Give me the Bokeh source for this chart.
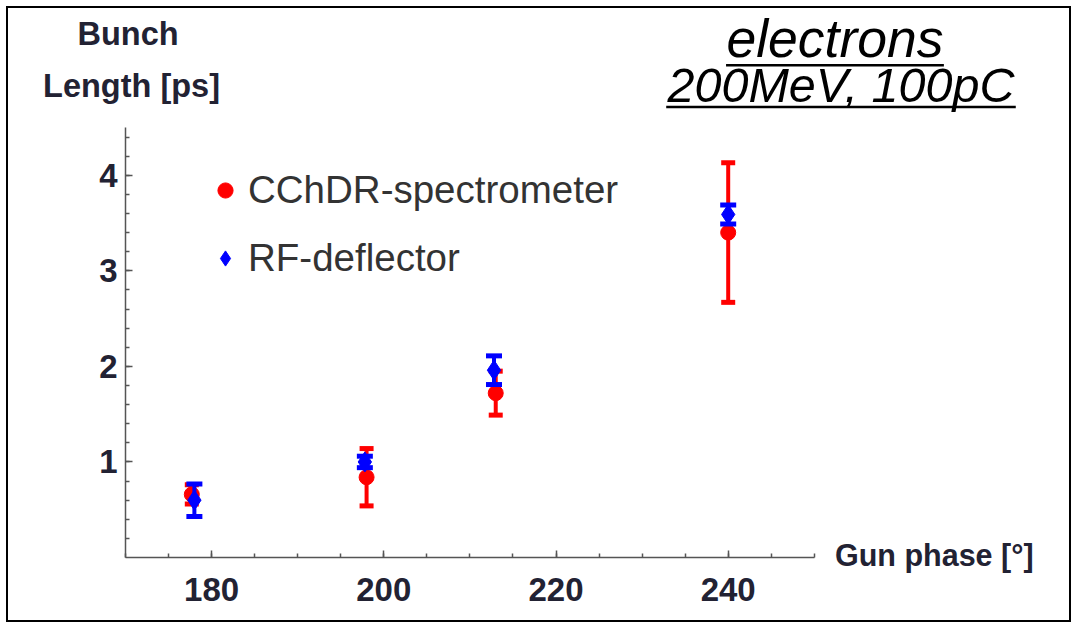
import numpy as np
from bokeh.plotting import figure
from bokeh.models import Range1d, FixedTicker, Legend, LegendItem, Label, Arrow
from bokeh.embed import file_html
from bokeh.resources import INLINE

# ---- data ----
phase_cchdr = [177.7, 198.0, 213.0, 240.0]
len_cchdr = [0.66, 0.84, 1.72, 3.40]
err_cchdr = [0.10, 0.30, 0.23, 0.73]

phase_rf = [178.0, 197.8, 212.8, 240.0]
len_rf = [0.60, 1.00, 1.96, 3.59]
err_rf = [0.17, 0.06, 0.15, 0.10]

x_major = [180, 200, 220, 240]
x_minor = list(range(170, 251, 5))
y_major = [1, 2, 3, 4]
y_minor = [round(0.2 * i, 1) for i in range(1, 23)]
x_axis_bounds = (170, 250)
y_axis_bounds = (0, 4.5)

series_names = ["CChDR-spectrometer", "RF-deflector"]
title_lines = ["electrons", "200MeV, 100pC"]
y_title = ["Bunch", "Length [ps]"]
x_title = "Gun phase [°]"

FONT = "Liberation Sans"
LABEL_COLOR = "#222233"
AXIS_COLOR = "#555555"

# ---- layout (pixels) ----
W, H = 1065, 616
AX_LEFT_PX, AX_BOTTOM_PX = 117, 549      # where the axes cross, in canvas px (from top-left)
PX_PER_X = 8.61                           # px per degree
PX_PER_Y = 95.56                          # px per ps
x0 = x_axis_bounds[0] - AX_LEFT_PX / PX_PER_X
y0 = -(H - AX_BOTTOM_PX) / PX_PER_Y

p = figure(width=W, height=H, output_backend="svg", toolbar_location=None,
           x_range=Range1d(x0, x0 + W / PX_PER_X), y_range=Range1d(y0, y0 + H / PX_PER_Y),
           min_border_left=0, min_border_right=0, min_border_top=0, min_border_bottom=0)
p.styles = {"border": "2px solid black"}
p.margin = (6, 0, 0, 6)
p.xgrid.visible = False
p.ygrid.visible = False
p.outline_line_color = None
p.background_fill_color = "white"
p.border_fill_color = "white"

p.xaxis.fixed_location = y_axis_bounds[0]
p.yaxis.fixed_location = x_axis_bounds[0]
p.xaxis.bounds = x_axis_bounds
p.yaxis.bounds = y_axis_bounds

for ax, ticks, minor, standoff in [(p.xaxis[0], x_major, x_minor, 20), (p.yaxis[0], y_major, y_minor, 8)]:
    ax.ticker = FixedTicker(ticks=ticks, minor_ticks=minor)
    ax.axis_line_color = AXIS_COLOR
    ax.axis_line_width = 1.5
    ax.major_tick_line_color = AXIS_COLOR
    ax.major_tick_line_width = 1.5
    ax.minor_tick_line_color = AXIS_COLOR
    ax.minor_tick_line_width = 1.5
    ax.major_tick_in = 7
    ax.major_tick_out = 0
    ax.minor_tick_in = 4
    ax.minor_tick_out = 0
    ax.major_label_text_font = FONT
    ax.major_label_text_font_style = "bold"
    ax.major_label_text_font_size = "33px"
    ax.major_label_text_color = LABEL_COLOR
    ax.major_label_standoff = standoff

def add_series(xs, ys, errs, color, marker, size, cap):
    lo = [y - e for y, e in zip(ys, errs)]
    hi = [y + e for y, e in zip(ys, errs)]
    p.segment(x0=xs, y0=lo, x1=xs, y1=hi, line_color=color, line_width=4)
    p.scatter(x=xs + xs, y=lo + hi, marker="dash", size=cap, line_color=color, line_width=5)
    return p.scatter(x=xs, y=ys, marker=marker, size=size, fill_color=color, line_color=color)

r_red = add_series(phase_cchdr, len_cchdr, err_cchdr, "red", "circle", 15, 14)
r_blue = add_series(phase_rf, len_rf, err_rf, "blue", "diamond", 20, 16)

legend = Legend(items=[LegendItem(label=series_names[0], renderers=[r_red]),
                       LegendItem(label=series_names[1], renderers=[r_blue])],
                location=(198, 344), orientation="vertical",
                border_line_color=None, background_fill_alpha=0,
                padding=0, margin=0, spacing=24,
                glyph_width=38, glyph_height=40, label_height=40, label_standoff=4,
                label_text_font=FONT, label_text_font_size="38.5px",
                label_text_color="#333333")
p.add_layout(legend)

# y-axis title (two lines, top left)
for txt, xx, yy in zip(y_title, [170.3, 170.7], [5.478, 4.934]):
    p.add_layout(Label(x=xx, y=yy, text=txt, text_align="center", text_baseline="middle",
                       text_font=FONT, text_font_style="bold", text_font_size="32.5px",
                       text_color=LABEL_COLOR))

# x-axis title
p.add_layout(Label(x=252.4, y=0.03, text=x_title, text_align="left", text_baseline="middle",
                   text_font=FONT, text_font_style="bold", text_font_size="30.5px",
                   text_color=LABEL_COLOR))

# Title block: italic, underlined
title_x = [252.4, 253.1]
title_y = [5.43, 4.94]
title_size = ["53.5px", "48.5px"]
under_y = [5.15, 4.715]
under_x = [(239.75, 265.05), (232.8, 273.4)]
for txt, tx, ty, ts, uy, (ux0, ux1) in zip(title_lines, title_x, title_y, title_size, under_y, under_x):
    p.add_layout(Label(x=tx, y=ty, text=txt, text_align="center", text_baseline="middle",
                       text_font=FONT, text_font_style="italic", text_font_size=ts,
                       text_color="black"))
    p.add_layout(Arrow(x_start=ux0, y_start=uy, x_end=ux1, y_end=uy, start=None, end=None,
                       line_color="black", line_width=2.5))

open("out.html", "w").write(file_html(p, INLINE))
